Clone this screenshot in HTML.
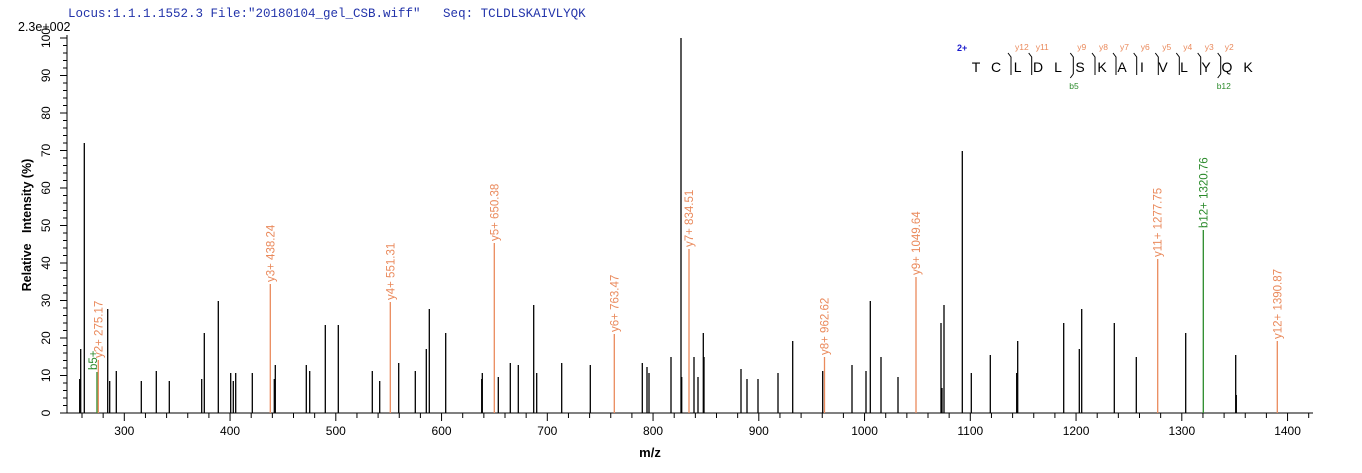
<!DOCTYPE html>
<html><head><meta charset="utf-8"><style>
html,body{margin:0;padding:0;background:#fff;width:1362px;height:473px;overflow:hidden}
svg text{font-family:"Liberation Sans",Arial,sans-serif}
</style></head><body>
<svg id="s" width="1362" height="473" xmlns="http://www.w3.org/2000/svg">
<text x="68" y="17" xml:space="preserve" style="font-family:'Liberation Mono',monospace;white-space:pre" font-size="12.5" fill="#2233aa">Locus:1.1.1.1552.3 File:"20180104_gel_CSB.wiff"   Seq: TCLDLSKAIVLYQK</text>
<text x="18" y="31" font-size="12.5" fill="#000">2.3e+002</text>
<text x="650" y="457" font-size="13" font-weight="bold" text-anchor="middle">m/z</text>
<text transform="translate(31,225) rotate(-90)" font-size="12.5" font-weight="bold" text-anchor="middle" xml:space="preserve" style="white-space:pre">Relative   Intensity (%)</text>
<line x1="67" y1="35" x2="67" y2="413" stroke="#000"/>
<line x1="67" y1="413" x2="1313" y2="413" stroke="#000"/>
<g id="ax"></g><g id="pk"></g><g id="pep"></g>
</svg>
<script>
var NS="http://www.w3.org/2000/svg";
function el(p,t,a,txt){var e=document.createElementNS(NS,t);for(var k in a)e.setAttribute(k,a[k]);if(txt!=null)e.textContent=txt;p.appendChild(e);return e;}
var ax=document.getElementById('ax'),pk=document.getElementById('pk'),pep=document.getElementById('pep');
for(var v=0;v<=100;v+=2){var y=413-3.75*v;var maj=v%10==0;el(ax,'line',{x1:maj?60:63,y1:y,x2:67,y2:y,stroke:'#000'});
 if(maj){el(ax,'text',{transform:'translate(50,'+y+') rotate(-90)','font-size':12,'text-anchor':'middle'},String(v));}}
for(var k=-2;k<60;k++){var x=124.3+21.15*k;if(x>1312)break;if(x<68)continue;var maj=(k%5==0);el(ax,'line',{x1:x,y1:413,x2:x,y2:maj?421:418,stroke:'#000'});
 if(maj){el(ax,'text',{x:x,y:435,'font-size':12,'text-anchor':'middle'},String(300+20*k));}}
var O='#ea8a5c',G='#2a8a2a';
var P=[[79.7,379],[80.7,349],[84.3,143],[107.7,309],[109.7,381],[116.3,371],[141.3,381],[156.3,371],[169.3,381],[201.7,379],[204.3,333],[218.3,301],[230.7,373],[233.3,381],[235.7,373],[252.3,373],[274.3,379],[275.3,365],[306.3,365],[309.7,371],[325.3,325],[338.3,325],
[372.3,371],[379.7,381],[398.7,363],[415.3,371],[426.3,349],[429.3,309],[445.7,333],[481.7,379],[482.3,373],[498.3,377],[510.3,363],[518.3,365],[533.7,305],[536.7,373],[561.7,363],[590.3,365],
[642.3,363],[647,367],[649,373],[671,357],[681,38],[681.7,377],[694,357],[698,377],[703.3,333],[704,357],[741,369],[747,379],[758,379],[778,373],[792.7,341],[822.7,371],[852,365],[866,371],[870.3,301],[881,357],[898,377],[941,323],[942,388],[944,305],
[962.3,151],[971.3,373],[990.3,355],[1016.7,373],[1017.7,341],[1063.7,323],[1079.3,349],[1081.7,309],[1114.3,323],[1136.3,357],[1185.7,333],[1235.7,355],[1236.3,395]];
P.forEach(function(p){el(pk,'line',{x1:p[0],y1:p[1],x2:p[0],y2:413,stroke:'#000','stroke-width':1.3});});
var L=[[97,372,G,'b5+'],[98.3,360,O,'y2+ 275.17'],[270.3,284,O,'y3+ 438.24'],[390.3,302,O,'y4+ 551.31'],[494.3,243,O,'y5+ 650.38'],[614.3,334,O,'y6+ 763.47'],[689,249,O,'y7+ 834.51'],[824.5,357,O,'y8+ 962.62'],[916,277,O,'y9+ 1049.64'],[1157.7,259,O,'y11+ 1277.75'],[1203.3,230,G,'b12+ 1320.76'],[1277.3,341,O,'y12+ 1390.87']];
L.forEach(function(l){el(pk,'line',{x1:l[0],y1:l[1],x2:l[0],y2:413,stroke:l[2],'stroke-width':1.3});
 var dx=l[3]=='b5+'?0:4;el(pk,'text',{transform:'translate('+(l[0]+dx)+','+(l[1]-2)+') rotate(-90)','font-size':11.5,fill:l[2]},l[3]);});
var letters='TCLDLSKAIVLYQK'.split(''),cx=[976,996,1017.7,1038,1058,1080,1102,1122,1142,1163,1184,1206,1227,1248];
letters.forEach(function(c,i){el(pep,'text',{x:cx[i],y:72,'font-size':14,'text-anchor':'middle'},c);});
el(pep,'text',{x:957,y:51,'font-size':9,'font-weight':'bold',fill:'#1a1acc'},'2+');
var br=[[1011,'y12'],[1031.7,'y11'],[1073.3,'y9',1],[1095,'y8'],[1116,'y7'],[1136.7,'y6'],[1158.3,'y5'],[1179.3,'y4'],[1200.7,'y3'],[1220.7,'y2',1]];
var bl={1073.3:'b5',1220.7:'b12'};
br.forEach(function(b){var x=b[0];
 el(pep,'path',{d:'M'+(x-3)+',53 L'+x+',57 L'+x+','+(b[2]?74:75),stroke:'#000',fill:'none','stroke-width':1});
 el(pep,'text',{x:x+4,y:50,'font-size':8.5,fill:O},b[1]);
 if(b[2]){el(pep,'path',{d:'M'+x+',74 L'+(x-3)+',78',stroke:'#000',fill:'none'});
  el(pep,'text',{x:x-4,y:89,'font-size':8.5,fill:G},bl[x]);}});
</script>
</body></html>
